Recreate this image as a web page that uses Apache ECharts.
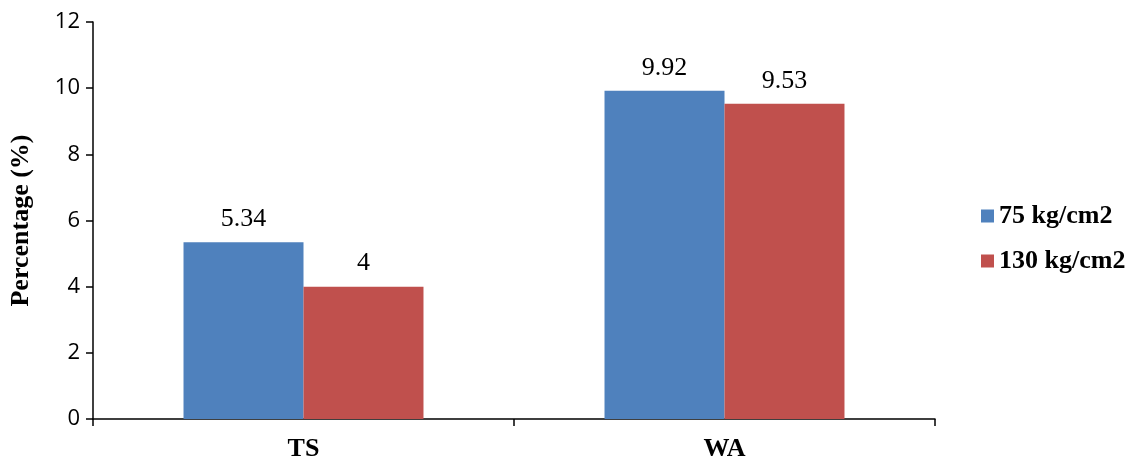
<!DOCTYPE html>
<html><head><meta charset="utf-8">
<script src="https://cdn.jsdelivr.net/npm/echarts@6/dist/echarts.min.js"></script>
<style>html,body{margin:0;padding:0;background:#fff}#c{width:1131px;height:463px}</style>
</head><body><div id="c"></div>
<script>
var categories = ['TS', 'WA'];
var series75 = [5.34, 9.92];
var series130 = [4, 9.53];
var seriesNames = ['75 kg/cm2', '130 kg/cm2'];
var yTicks = [0, 2, 4, 6, 8, 10, 12];

var chart = echarts.init(document.getElementById('c'));
var serif = '"Liberation Serif", "Times New Roman", serif';
var labelStyle = {show: true, position: 'top', distance: 10, fontFamily: serif, fontSize: 26, color: '#000',
  formatter: function(p){ return String(p.value); }};
chart.setOption({
  animation: false,
  grid: {left: 93, right: 196, top: 22, bottom: 44},
  legend: {
    orient: 'vertical', left: 976, top: 198, itemWidth: 13, itemHeight: 13, itemGap: 19,
    icon: 'rect',
    textStyle: {fontFamily: serif, fontSize: 26, fontWeight: 'bold', color: '#000'},
    data: seriesNames
  },
  xAxis: {
    type: 'category', data: categories,
    axisLine: {lineStyle: {color: '#000', width: 1.5}},
    axisTick: {show: true, length: 7, lineStyle: {color: '#000', width: 1.5}},
    axisLabel: {fontFamily: serif, fontSize: 26, fontWeight: 'bold', color: '#000', margin: 17}
  },
  yAxis: {
    type: 'value', min: 0, max: 12, interval: 2,
    name: 'Percentage (%)', nameLocation: 'middle', nameGap: 59, nameRotate: 90,
    nameTextStyle: {fontFamily: serif, fontSize: 26, fontWeight: 'bold', color: '#000'},
    axisLine: {show: true, lineStyle: {color: '#000', width: 1.5}},
    axisTick: {show: true, length: 7, lineStyle: {color: '#000', width: 1.5}},
    splitLine: {show: false},
    axisLabel: {fontFamily: '"Open Sans", "Liberation Sans", sans-serif', fontSize: 22, color: '#000', margin: 13,
      formatter: function(v){ return yTicks.indexOf(v) >= 0 ? String(v) : ''; }}
  },
  series: [
    {name: seriesNames[0], type: 'bar', data: series75, barGap: '0%', barCategoryGap: '43%',
     itemStyle: {color: '#4F81BD'}, label: labelStyle},
    {name: seriesNames[1], type: 'bar', data: series130, barGap: '0%', barCategoryGap: '43%',
     itemStyle: {color: '#C0504D'}, label: labelStyle}
  ]
});
</script></body></html>
